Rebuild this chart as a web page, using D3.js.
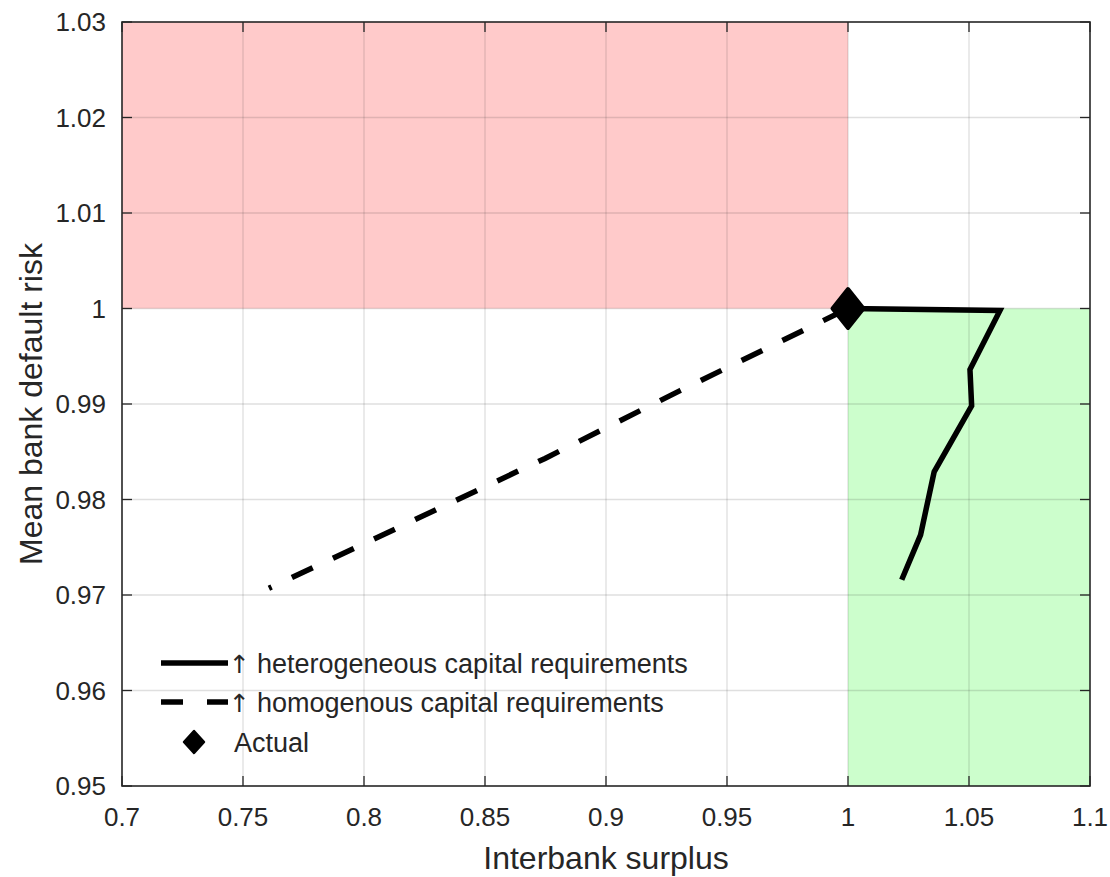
<!DOCTYPE html>
<html>
<head>
<meta charset="utf-8">
<script src="https://cdn.jsdelivr.net/npm/d3@7"></script>
<style>
  html, body { margin: 0; padding: 0; background: #fff; }
  svg { display: block; }
  text { font-family: "Liberation Sans", Arial, Helvetica, sans-serif; fill: #262626; }
</style>
</head>
<body>
<svg id="chart" width="1110" height="877"></svg>
<script>
// ---- data ----
const xTicks = [0.7, 0.75, 0.8, 0.85, 0.9, 0.95, 1.0, 1.05, 1.1];
const xTickLabels = ["0.7", "0.75", "0.8", "0.85", "0.9", "0.95", "1", "1.05", "1.1"];
const yTicks = [0.95, 0.96, 0.97, 0.98, 0.99, 1.0, 1.01, 1.02, 1.03];
const yTickLabels = ["0.95", "0.96", "0.97", "0.98", "0.99", "1", "1.01", "1.02", "1.03"];

const heteroX = [1.0, 1.0628, 1.0504, 1.0511, 1.0356, 1.0300, 1.0222];
const heteroY = [1.0, 0.9998, 0.9936, 0.9898, 0.9829, 0.9763, 0.9716];

const homoX = [0.7607, 0.8128, 0.8748, 0.9306, 1.0];
const homoY = [0.9707, 0.9769, 0.9843, 0.9914, 1.0];

const actualX = [1.0];
const actualY = [1.0];

// shaded regions: [x0, x1, y0, y1]
const redRegion = [0.7, 1.0, 1.0, 1.03];
const greenRegion = [1.0, 1.1, 0.95, 1.0];

const legendArrow = "\u2191";
const legendLabels = ["heterogeneous capital requirements", "homogenous capital requirements", "Actual"];
const xLabel = "Interbank surplus";
const yLabel = "Mean bank default risk";

// ---- layout ----
const svg = d3.select("#chart");
const L = 122, R = 1090, T = 22, B = 786;
const x = d3.scaleLinear().domain([0.7, 1.1]).range([L, R]);
const y = d3.scaleLinear().domain([0.95, 1.03]).range([B, T]);
const axisColor = "#262626";

// regions
function region(r, color) {
  svg.append("rect")
    .attr("x", x(r[0])).attr("y", y(r[3]))
    .attr("width", x(r[1]) - x(r[0])).attr("height", y(r[2]) - y(r[3]))
    .attr("fill", color);
}
region(redRegion, "#ffcaca");
region(greenRegion, "#ccfecc");

// grid
const grid = svg.append("g").attr("stroke", "rgba(38,38,38,0.15)").attr("stroke-width", 1.3);
grid.selectAll("line.vx").data(xTicks.slice(1, -1)).join("line")
  .attr("x1", d => x(d)).attr("x2", d => x(d)).attr("y1", T).attr("y2", B);
grid.selectAll("line.hy").data(yTicks.slice(1, -1)).join("line")
  .attr("y1", d => y(d)).attr("y2", d => y(d)).attr("x1", L).attr("x2", R);

// lines
const line = d3.line().x(d => x(d[0])).y(d => y(d[1]));
svg.append("path")
  .datum(homoX.map((v, i) => [v, homoY[i]]))
  .attr("d", line)
  .attr("fill", "none").attr("stroke", "#000").attr("stroke-width", 5.5)
  .attr("stroke-dasharray", "23,22.4").attr("stroke-dashoffset", 20);

svg.append("path")
  .datum(heteroX.map((v, i) => [v, heteroY[i]]))
  .attr("d", line)
  .attr("fill", "none").attr("stroke", "#000").attr("stroke-width", 5.5)
  .attr("stroke-linejoin", "miter");

// diamond marker
function diamond(cx, cy, hw, hh) {
  return `M${cx},${cy - hh}L${cx + hw},${cy}L${cx},${cy + hh}L${cx - hw},${cy}Z`;
}
svg.selectAll("path.actual").data(actualX.map((v, i) => [v, actualY[i]])).join("path")
  .attr("d", d => diamond(x(d[0]), y(d[1]), 15.5, 19.5))
  .attr("fill", "#000").attr("stroke", "#000").attr("stroke-width", 4).attr("stroke-linejoin", "round");

// axes box
svg.append("rect").attr("x", L).attr("y", T).attr("width", R - L).attr("height", B - T)
  .attr("fill", "none").attr("stroke", axisColor).attr("stroke-width", 1.6);

// ticks (inward, all four sides)
const tl = 10;
const tg = svg.append("g").attr("stroke", axisColor).attr("stroke-width", 1.3);
xTicks.forEach(t => {
  tg.append("line").attr("x1", x(t)).attr("x2", x(t)).attr("y1", B).attr("y2", B - tl);
  tg.append("line").attr("x1", x(t)).attr("x2", x(t)).attr("y1", T).attr("y2", T + tl);
});
yTicks.forEach(t => {
  tg.append("line").attr("y1", y(t)).attr("y2", y(t)).attr("x1", L).attr("x2", L + tl);
  tg.append("line").attr("y1", y(t)).attr("y2", y(t)).attr("x1", R).attr("x2", R - tl);
});

// tick labels
svg.append("g").selectAll("text").data(xTicks).join("text")
  .attr("x", d => x(d)).attr("y", 826)
  .attr("text-anchor", "middle").attr("font-size", 26)
  .text((d, i) => xTickLabels[i]);
svg.append("g").selectAll("text").data(yTicks).join("text")
  .attr("x", 106).attr("y", d => y(d) + 9.3)
  .attr("text-anchor", "end").attr("font-size", 26)
  .text((d, i) => yTickLabels[i]);

// axis labels
svg.append("text").attr("x", (L + R) / 2).attr("y", 869)
  .attr("text-anchor", "middle").attr("font-size", 32).text(xLabel);
svg.append("text").attr("transform", `translate(42,${(T + B) / 2}) rotate(-90)`)
  .attr("text-anchor", "middle").attr("font-size", 32).text(yLabel);

// legend
const lg = svg.append("g");
const rows = [663, 702, 742];
lg.append("line").attr("x1", 161).attr("x2", 228).attr("y1", rows[0]).attr("y2", rows[0])
  .attr("stroke", "#000").attr("stroke-width", 5.5);
lg.append("line").attr("x1", 161).attr("x2", 228).attr("y1", rows[1]).attr("y2", rows[1])
  .attr("stroke", "#000").attr("stroke-width", 5.5).attr("stroke-dasharray", "22,24");
lg.append("path").attr("d", diamond(194, rows[2], 10, 11))
  .attr("fill", "#000").attr("stroke", "#000").attr("stroke-width", 2.5).attr("stroke-linejoin", "round");
[0, 1].forEach(i => {
  const t = lg.append("text").attr("x", 229).attr("y", rows[i] + 9.5).attr("font-size", 27);
  t.append("tspan").attr("font-family", "DejaVu Sans").attr("font-size", 25).text(legendArrow);
  t.append("tspan").attr("dx", 7).text(legendLabels[i]);
});
lg.append("text").attr("x", 234).attr("y", rows[2] + 9.5).attr("font-size", 27).text(legendLabels[2]);
</script>
</body>
</html>
